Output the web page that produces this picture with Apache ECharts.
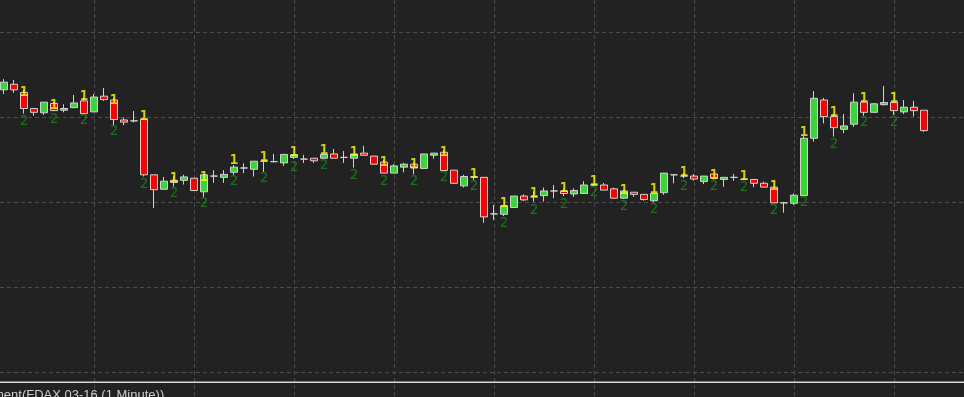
<!DOCTYPE html>
<html><head><meta charset="utf-8">
<script src="https://cdn.jsdelivr.net/npm/echarts@6/dist/echarts.min.js"></script>
<style>html,body{margin:0;padding:0;background:#222222;}#c{width:964px;height:397px;}</style>
</head><body><div id="c"></div>
<script>
// one-minute bars (FDAX 03-16)
const categories = [];
for (let m = 0; m < 97; m++) { const t = 9 * 60 + m; categories.push(String(Math.floor(t / 60)).padStart(2, '0') + ':' + String(t % 60).padStart(2, '0')); }

const opens = [9926.4,9927.7,9925.8,9922.0,9921.0,9923.2,9921.6,9922.2,9923.8,9921.2,
9924.9,9924.0,9919.3,9919.1,9919.5,9906.4,9903.0,9905.1,9905.1,9905.6,
9902.4,9906.1,9905.8,9907.0,9908.0,9907.7,9909.6,9909.5,9909.2,9910.5,
9910.1,9910.3,9910.3,9911.3,9910.5,9910.3,9911.5,9910.8,9909.4,9906.8,
9908.2,9908.9,9907.9,9911.0,9911.7,9907.5,9903.8,9905.9,9905.8,9897.2,
9897.1,9898.7,9901.4,9901.2,9901.5,9902.6,9902.6,9901.9,9902.0,9904.0,
9904.0,9903.1,9900.9,9902.3,9901.8,9900.3,9902.2,9906.4,9906.1,9906.1,
9904.8,9906.6,9905.3,9905.8,9905.3,9905.3,9904.4,9903.5,9899.8,9899.7,
9901.5,9915.0,9924.0,9920.1,9917.1,9918.3,9923.5,9921.1,9922.9,9923.4,
9921.2,9922.3,9921.6];
const closes = [9928.2,9926.4,9922.0,9921.1,9923.5,9921.5,9922.0,9923.3,9920.8,9924.7,
9924.1,9919.4,9918.8,9919.1,9906.4,9902.9,9904.9,9904.6,9905.9,9902.7,
9906.4,9906.1,9906.5,9908.2,9908.0,9909.6,9909.6,9909.5,9911.2,9911.1,
9910.1,9909.7,9911.2,9910.3,9910.5,9911.3,9911.0,9908.9,9906.8,9908.5,
9908.9,9908.0,9911.3,9911.5,9907.4,9904.4,9906.0,9905.9,9896.5,9897.2,
9899.1,9901.4,9900.5,9901.2,9902.6,9902.6,9902.0,9902.7,9904.0,9904.0,
9902.8,9900.9,9902.6,9901.8,9900.6,9902.0,9906.8,9906.4,9906.1,9905.4,
9906.1,9905.6,9905.8,9905.8,9905.3,9904.4,9903.5,9899.8,9899.8,9901.6,
9915.0,9924.4,9920.1,9917.5,9917.9,9923.5,9921.1,9923.1,9923.4,9921.5,
9922.3,9921.5,9916.8];
const lows = [9925.4,9925.7,9920.8,9920.3,9920.5,9921.4,9921.1,9922.2,9920.7,9921.2,
9923.8,9918.1,9918.1,9918.7,9906.0,9898.6,9903.0,9903.6,9904.1,9902.7,
9901.2,9904.5,9904.5,9906.4,9906.8,9906.0,9907.1,9909.3,9908.5,9910.1,
9909.2,9909.2,9910.3,9910.3,9909.2,9908.1,9911.0,9908.9,9906.8,9906.8,
9907.0,9906.5,9907.9,9910.2,9907.4,9904.2,9903.4,9905.2,9895.1,9895.8,
9896.7,9898.7,9900.2,9900.1,9900.1,9900.9,9901.4,9901.2,9902.0,9903.8,
9902.8,9900.9,9900.7,9901.2,9900.3,9900.0,9901.7,9904.4,9905.6,9905.0,
9904.2,9905.3,9903.6,9905.0,9905.2,9903.5,9903.5,9899.8,9897.5,9899.3,
9901.5,9914.2,9918.5,9915.4,9916.2,9917.7,9920.3,9921.1,9922.7,9920.5,
9920.7,9920.1,9916.5];
const highs = [9928.9,9928.7,9926.4,9922.0,9923.5,9923.5,9923.0,9925.2,9924.5,9925.4,
9926.8,9924.5,9919.9,9921.4,9919.8,9906.4,9905.9,9906.0,9906.4,9905.6,
9906.6,9907.5,9907.5,9908.7,9909.1,9909.6,9909.6,9911.3,9911.2,9911.1,
9911.1,9910.3,9911.2,9912.5,9912.0,9911.3,9913.2,9910.8,9909.9,9908.9,
9909.2,9909.2,9911.3,9911.5,9912.2,9907.5,9906.4,9906.1,9905.8,9899.3,
9899.3,9901.4,9901.8,9902.4,9903.4,9904.0,9903.1,9903.2,9904.9,9904.2,
9904.5,9903.4,9902.8,9902.3,9901.8,9902.0,9906.8,9906.4,9906.8,9906.6,
9906.1,9906.6,9905.8,9906.6,9905.6,9905.3,9904.8,9903.5,9899.8,9902.0,
9915.5,9926.1,9924.5,9920.7,9920.7,9925.6,9924.0,9923.3,9927.3,9923.8,
9924.0,9923.8,9921.6];

// signal markers "1" (above) and "2" (below)
const signalIdx = [2,5,8,11,14,17,20,23,26,29,32,35,38,41,44,47,50,53,56,59,62,65,68,71,74,77,80,83,86,89];
const signal1Price = [9924.9,9921.9,9923.8,9923.0,9919.1,9904.7,9904.9,9908.9,9909.6,9910.8,
9911.1,9910.8,9908.3,9907.8,9910.7,9905.6,9898.7,9901.2,9902.3,9904.0,
9901.8,9902.0,9906.1,9905.3,9905.2,9902.7,9915.5,9920.1,9923.5,9923.4];
const signal2Price = [9920.1,9920.7,9920.3,9917.7,9905.4,9903.2,9900.9,9906.0,9906.8,9909.4,
9909.7,9907.5,9906.0,9906.0,9906.9,9904.8,9896.2,9899.3,9900.7,9903.4,
9900.1,9899.5,9904.9,9904.8,9904.7,9899.1,9901.1,9914.8,9919.8,9919.9];

const priceTicks = [9860, 9880, 9900, 9920, 9940];

const candleData = opens.map((o, i) => [o, closes[i], lows[i], highs[i]]);
const sig1 = signalIdx.map((k, i) => [k, signal1Price[i]]);
const sig2 = signalIdx.map((k, i) => [k, signal2Price[i]]);

const gridLine = { color: '#4c4c4c', width: 1, type: [4, 3] };

const chart = echarts.init(document.getElementById('c'), null, { renderer: 'canvas' });
chart.setOption({
  backgroundColor: '#222222',
  animation: false,
  grid: [
    { left: 0, right: 0, top: 32, bottom: 25 },
    { left: 4, right: 0, top: 0, bottom: 0 }
  ],
  xAxis: [
    { gridIndex: 0, type: 'value', min: 0, max: 1, show: false },
    { gridIndex: 1, type: 'category', data: categories, boundaryGap: false,
      axisLine: { show: false }, axisTick: { show: false }, axisLabel: { show: false },
      splitLine: { show: true, interval: (i) => i % 10 === 9, lineStyle: gridLine } }
  ],
  yAxis: [
    { gridIndex: 0, type: 'value', min: priceTicks[0], max: priceTicks[priceTicks.length - 1], interval: 20,
      axisLine: { show: false }, axisTick: { show: false }, axisLabel: { show: false },
      splitLine: { show: true, lineStyle: gridLine } },
    { gridIndex: 1, type: 'value', min: 9854.12, max: 9947.53, show: false, splitLine: { show: false } }
  ],
  series: [
    { type: 'line', xAxisIndex: 0, yAxisIndex: 0, data: [], silent: true },
    { type: 'candlestick', xAxisIndex: 1, yAxisIndex: 1, data: candleData, barWidth: 7, z: 3,
      itemStyle: { color: '#3bd43b', color0: '#ff0000', borderColor: '#d2d2d2', borderColor0: '#d2d2d2', borderColorDoji: '#d2d2d2', borderWidth: 1 } },
    { type: 'scatter', xAxisIndex: 1, yAxisIndex: 1, data: sig1, symbolSize: 0, z: 5, silent: true,
      label: { show: true, formatter: '1', position: 'top', distance: 0, offset: [0, 3],
        color: '#ffff00', fontFamily: 'DejaVu Sans Mono', fontSize: 14, fontWeight: 'bold' } },
    { type: 'scatter', xAxisIndex: 1, yAxisIndex: 1, data: sig2, symbolSize: 0, z: 5, silent: true,
      label: { show: true, formatter: '2', position: 'bottom', distance: 0, offset: [0, -2],
        color: '#1c861c', fontFamily: 'DejaVu Sans Mono', fontSize: 14 } }
  ],
  graphic: [
    { type: 'rect', left: 0, top: 381.5, shape: { width: 964, height: 1.5 }, style: { fill: '#d8d8d8' }, z: 10 },
    { type: 'text', left: -7, top: 388.5, z: 10,
      style: { text: 'ment(FDAX 03-16 (1 Minute))', fill: '#cccccc', font: '13px "Liberation Sans", Arial, sans-serif' } }
  ]
});
</script>
</body></html>
